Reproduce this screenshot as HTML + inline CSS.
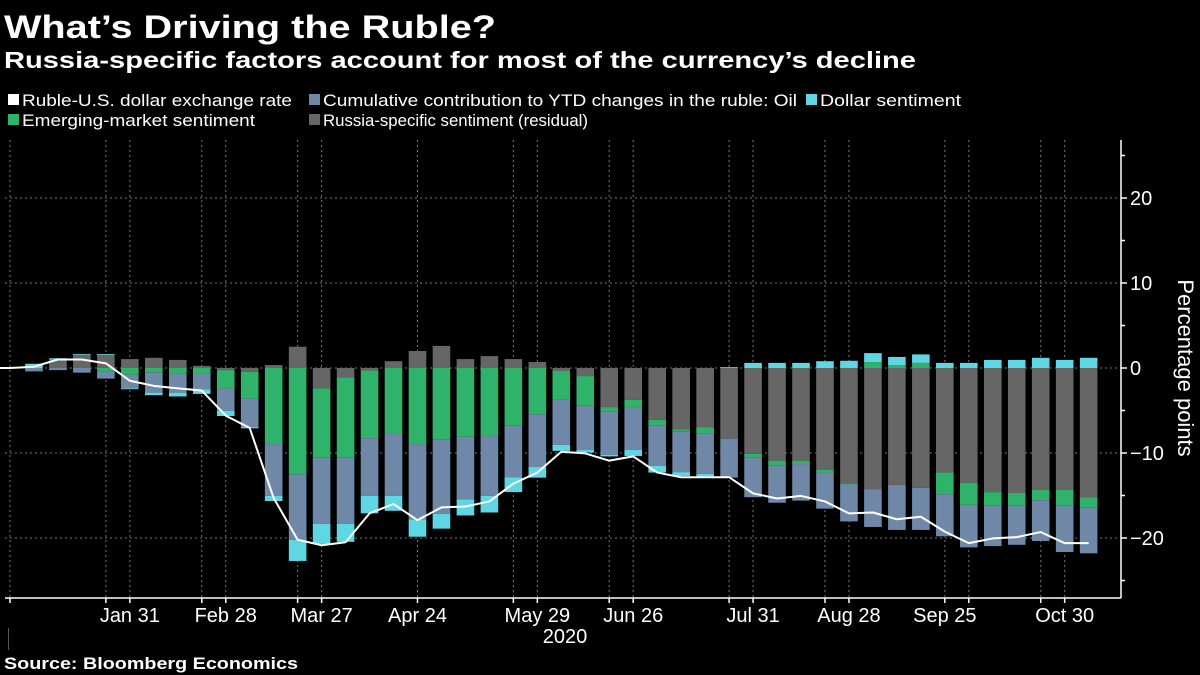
<!DOCTYPE html>
<html><head><meta charset="utf-8">
<style>
html,body{margin:0;padding:0;background:#000;}
svg{display:block;font-family:"Liberation Sans","DejaVu Sans",sans-serif;}
</style></head>
<body>
<svg id="chart" width="1200" height="675" viewBox="0 0 1200 675" xmlns="http://www.w3.org/2000/svg">
<rect x="0" y="0" width="1200" height="675" fill="#000"/>
<text x="4" y="38" fill="#fff" font-size="32" font-weight="bold" textLength="492" lengthAdjust="spacingAndGlyphs">What’s Driving the Ruble?</text>
<text x="4" y="68" fill="#fff" font-size="23" font-weight="bold" textLength="912" lengthAdjust="spacingAndGlyphs">Russia-specific factors account for most of the currency’s decline</text>
<g font-size="17" fill="#fff">
 <g><rect x="8" y="94" width="11" height="11" fill="#fff"/><text x="22" y="106" textLength="270" lengthAdjust="spacingAndGlyphs">Ruble-U.S. dollar exchange rate</text></g>
 <g><rect x="309" y="94" width="11" height="11" fill="#7088a8"/><text x="323" y="106" textLength="474" lengthAdjust="spacingAndGlyphs">Cumulative contribution to YTD changes in the ruble: Oil</text></g>
 <g><rect x="806" y="94" width="11" height="11" fill="#5fd6e3"/><text x="820" y="106" textLength="141" lengthAdjust="spacingAndGlyphs">Dollar sentiment</text></g>
 <g><rect x="8" y="114" width="11" height="11" fill="#2fb36a"/><text x="22" y="126" textLength="233" lengthAdjust="spacingAndGlyphs">Emerging-market sentiment</text></g>
 <g><rect x="309" y="114" width="11" height="11" fill="#666"/><text x="323" y="126" textLength="265" lengthAdjust="spacingAndGlyphs">Russia-specific sentiment (residual)</text></g>
</g>
<g id="grid"></g>
<g id="bars"></g>
<g id="line"></g>
<g id="axes"></g>
<text transform="translate(1178,368) rotate(90)" text-anchor="middle" fill="#fff" font-size="22">Percentage points</text>
<text x="565" y="643" text-anchor="middle" fill="#fff" font-size="20">2020</text>
<rect x="8" y="628" width="1" height="22" fill="#555"/>
<text x="4" y="669" fill="#fff" font-size="17" font-weight="bold" textLength="294" lengthAdjust="spacingAndGlyphs">Source: Bloomberg Economics</text>
</svg>
<script>
const oil = [0,-0.4,-0.25,-0.55,-0.8,-1.6,-2.4,-2.3,-1.8,-2.65,-3.35,-6.1,-7.7,-7.85,-7.85,-6.8,-7.35,-8.85,-8.7,-7.35,-7.1,-6.05,-6.2,-5.3,-5.2,-5.1,-4.95,-4.75,-4.75,-4.7,-4.55,-4.65,-4.35,-4.3,-4.25,-4.35,-4.45,-5.3,-4.95,-4.95,-5.0,-4.8,-4.65,-4.8,-5.5,-5.35];
const dollar = [0,0.5,0.15,0.1,0.1,-0.1,-0.3,-0.45,-0.55,-0.6,-0.15,-0.6,-2.5,-2.35,-2.1,-2.05,-1.75,-2.05,-1.75,-1.9,-1.95,-1.75,-1.25,-0.7,-0.3,-0.2,-0.7,-0.8,-0.45,-0.3,0.1,0.6,0.6,0.6,0.8,0.85,1.05,0.95,1.0,0.6,0.6,0.95,0.95,1.2,0.95,1.2];
const em = [0,0,0,0,-0.45,-0.8,-0.5,-0.6,-0.7,-2.15,-3.15,-8.95,-12.5,-8.1,-9.4,-7.95,-7.7,-8.95,-8.45,-8.1,-7.95,-6.8,-5.45,-3.4,-3.5,-0.5,-0.95,-0.65,-0.3,-0.75,0,-0.45,-0.6,-0.4,-0.3,-0.1,0.7,0.35,0.6,-2.55,-2.6,-1.55,-1.45,-1.2,-1.8,-1.25];
const residual = [0,0,1.0,1.55,1.55,1.05,1.2,0.95,0.25,-0.25,-0.45,0.35,2.5,-2.4,-1.1,-0.3,0.8,2.0,2.6,1.05,1.4,1.05,0.7,-0.35,-0.95,-4.6,-3.75,-6.1,-7.2,-7.0,-8.35,-10.1,-10.9,-10.9,-12.0,-13.6,-14.25,-13.75,-14.1,-12.3,-13.5,-14.6,-14.7,-14.35,-14.35,-15.2];
const rate = [0,0.15,1.0,1.0,0.55,-1.5,-2.1,-2.4,-2.65,-5.6,-7.05,-15.3,-20.2,-20.85,-20.5,-17.1,-16.0,-17.9,-16.4,-16.3,-15.7,-13.6,-12.3,-9.85,-10.05,-10.9,-10.4,-12.3,-12.85,-12.85,-12.85,-14.75,-15.35,-15.05,-15.7,-17.1,-17.0,-17.8,-17.5,-19.25,-20.6,-20.05,-19.9,-19.3,-20.6,-20.6];
const yTicks = [20,10,0,-10,-20];
const xTickLabels = ["Jan 31","Feb 28","Mar 27","Apr 24","May 29","Jun 26","Jul 31","Aug 28","Sep 25","Oct 30"];
const xTickIdx = [5,9,13,17,22,26,31,35,39,44];
const gridIdx = [0,4,5,8,9,12,13,17,21,22,25,26,30,31,34,35,39,40,43,44];

const NS="http://www.w3.org/2000/svg";
const X0=10, STEP=23.97, BW=17.6, PL=5, PR=1121, PT=140, PB=598;
const xs = i => X0 + STEP*i;
const ys = v => 368 - v*8.5;
function mk(tag, attrs, parent){const e=document.createElementNS(NS,tag);for(const k in attrs)e.setAttribute(k,attrs[k]);parent.appendChild(e);return e;}
const grid=document.getElementById('grid'), bars=document.getElementById('bars'), line=document.getElementById('line'), axes=document.getElementById('axes');

yTicks.forEach(t=>{
  const g=mk('line',{x1:PL,x2:PR,y1:ys(t),y2:ys(t),stroke:'#777','stroke-width':1,'stroke-dasharray':'2,3'},grid);
  
  
});
gridIdx.forEach(i=>{
  const g=mk('line',{x1:xs(i),x2:xs(i),y1:PT,y2:PB,stroke:'#777','stroke-width':1,'stroke-dasharray':'2,3'},grid);
  
  
});

const series=[{d:oil,c:'#7088a8',n:'oil'},{d:em,c:'#2fb36a',n:'em'},{d:residual,c:'#666666',n:'residual'},{d:dollar,c:'#5fd6e3',n:'dollar'}];
const negOrder=[2,1,0,3];
oil.forEach((_,i)=>{
  let pos=0, neg=0;
  series.forEach((s,k)=>{
    const v=s.d[i]; if(v<=0) return;
    const r=mk('rect',{x:xs(i)-BW/2,y:ys(pos+v),width:BW,height:v*8.5,fill:s.c},bars);
    
    
    pos+=v;
  });
  negOrder.forEach(k=>{
    const s=series[k]; const v=s.d[i]; if(v>=0) return;
    const r=mk('rect',{x:xs(i)-BW/2,y:ys(neg),width:BW,height:-v*8.5,fill:s.c},bars);
    
    
    neg+=v;
  });
});

let d='M0,'+ys(rate[0]);
rate.forEach((v,i)=>{d+=' L'+xs(i)+','+ys(v);});
const p=mk('path',{d:d,fill:'none',stroke:'#fff','stroke-width':2,'stroke-linejoin':'round'},line);



const ax=mk('line',{x1:PL,x2:PR,y1:PB,y2:PB,stroke:'#fff','stroke-width':1.5},axes);


const ay=mk('line',{x1:PR,x2:PR,y1:PT,y2:PB,stroke:'#fff','stroke-width':1.5},axes);


for(let v=-25; v<=25; v+=5){
  const t=mk('line',{x1:PR,x2:PR+(v%10===0?6:4),y1:ys(v),y2:ys(v),stroke:'#fff','stroke-width':1.5},axes);
  
  
}
yTicks.forEach(t=>{
  const tx=mk('text',{x:PR+9,y:ys(t)+7,fill:'#fff','font-size':20},axes);
  tx.textContent = t<0 ? '\u2212'+Math.abs(t) : String(t);
  
  
});
gridIdx.forEach(i=>{
  const t=mk('line',{x1:xs(i),x2:xs(i),y1:PB,y2:PB+5,stroke:'#fff','stroke-width':1.5},axes);
  
  
});
xTickLabels.forEach((lab,k)=>{
  const t=mk('text',{x:xs(xTickIdx[k]),y:622,fill:'#fff','font-size':20,'text-anchor':'middle'},axes);
  t.textContent=lab;
  
  
});
</script>
</body></html>
